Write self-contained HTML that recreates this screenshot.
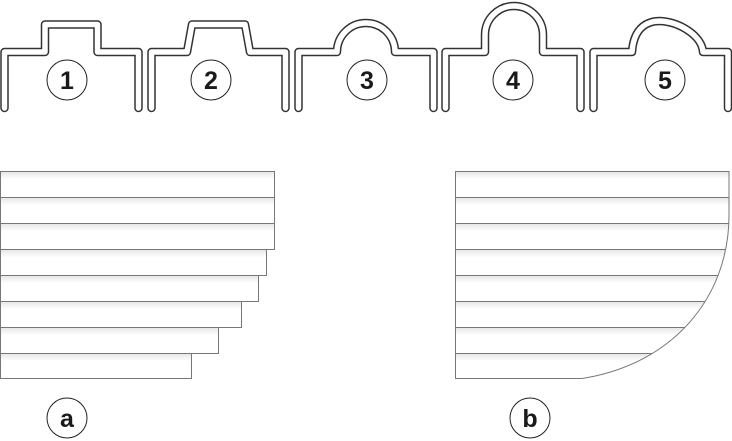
<!DOCTYPE html>
<html><head><meta charset="utf-8"><style>
html,body{margin:0;padding:0;background:#fff;}
svg{display:block;}
text{font-family:"Liberation Sans",sans-serif;font-weight:bold;font-size:25px;fill:#1a1a1a;text-anchor:middle;}
</style></head><body>
<svg width="732" height="441" viewBox="0 0 732 441" xmlns="http://www.w3.org/2000/svg">
<defs>
<linearGradient id="g" x1="0" y1="0" x2="0" y2="1">
<stop offset="0" stop-color="#e6e6e6"/><stop offset="0.3" stop-color="#fff"/><stop offset="1" stop-color="#fff"/>
</linearGradient>
<clipPath id="cb"><path d="M455,171 H729 V215 C729,300 670,365 582,378 H455 Z"/></clipPath>
</defs>
<g fill="none" stroke-linecap="round" stroke-linejoin="round">
<g stroke="#333" stroke-width="8.5">
<path d="M4.5,108 V52 H45 V24.5 H97.5 V52 H138.5 V108"/>
<path d="M151.5,108 V52 H187 L192,24.5 H245 L250,52 H285.5 V108"/>
<path d="M298.5,108 V52 H337 A29,29 0 0 1 395,52 H433.5 V108"/>
<path d="M445.5,108 V52 H485 V35 A29,29 0 0 1 543,35 V52 H580.5 V108"/>
<path d="M593.5,108 V52 H632 C634,25 650,21 660,21 C680,22 702,36 703,52 H728 V108"/>
</g>
<g stroke="#fff" stroke-width="5.5">
<path d="M4.5,108 V52 H45 V24.5 H97.5 V52 H138.5 V108"/>
<path d="M151.5,108 V52 H187 L192,24.5 H245 L250,52 H285.5 V108"/>
<path d="M298.5,108 V52 H337 A29,29 0 0 1 395,52 H433.5 V108"/>
<path d="M445.5,108 V52 H485 V35 A29,29 0 0 1 543,35 V52 H580.5 V108"/>
<path d="M593.5,108 V52 H632 C634,25 650,21 660,21 C680,22 702,36 703,52 H728 V108"/>
</g>
</g>
<g fill="#fff" stroke="#222" stroke-width="1">
<circle cx="67" cy="80" r="20"/><circle cx="211" cy="80" r="20"/><circle cx="367" cy="80" r="20"/><circle cx="513" cy="80" r="20"/><circle cx="665" cy="80" r="20"/>
<circle cx="67" cy="418" r="20"/><circle cx="530" cy="418" r="20"/>
</g>
<text x="67" y="89">1</text><text x="211" y="89">2</text><text x="367" y="89">3</text><text x="513" y="89">4</text><text x="665" y="89">5</text>
<text x="67" y="427">a</text><text x="530" y="427">b</text>
<g fill="url(#g)" stroke="#777" stroke-width="1">
<rect x="0.5" y="171.5" width="274" height="26"/>
<rect x="0.5" y="197.5" width="274" height="26"/>
<rect x="0.5" y="223.5" width="274" height="26"/>
<rect x="0.5" y="249.5" width="266" height="26"/>
<rect x="0.5" y="275.5" width="258" height="26"/>
<rect x="0.5" y="301.5" width="241" height="26"/>
<rect x="0.5" y="327.5" width="218" height="26"/>
<rect x="0.5" y="353.5" width="191" height="25"/>
</g>
<g clip-path="url(#cb)" fill="url(#g)" stroke="#777" stroke-width="1">
<rect x="455.5" y="171.5" width="280" height="26"/>
<rect x="455.5" y="197.5" width="280" height="26"/>
<rect x="455.5" y="223.5" width="280" height="26"/>
<rect x="455.5" y="249.5" width="280" height="26"/>
<rect x="455.5" y="275.5" width="280" height="26"/>
<rect x="455.5" y="301.5" width="280" height="26"/>
<rect x="455.5" y="327.5" width="280" height="26"/>
<rect x="455.5" y="353.5" width="280" height="25"/>
</g>
<path d="M455.5,171.5 H729 V215 C729,300 670,365 582,378.5 H455.5 Z" fill="none" stroke="#777" stroke-width="1"/>
</svg>
</body></html>
